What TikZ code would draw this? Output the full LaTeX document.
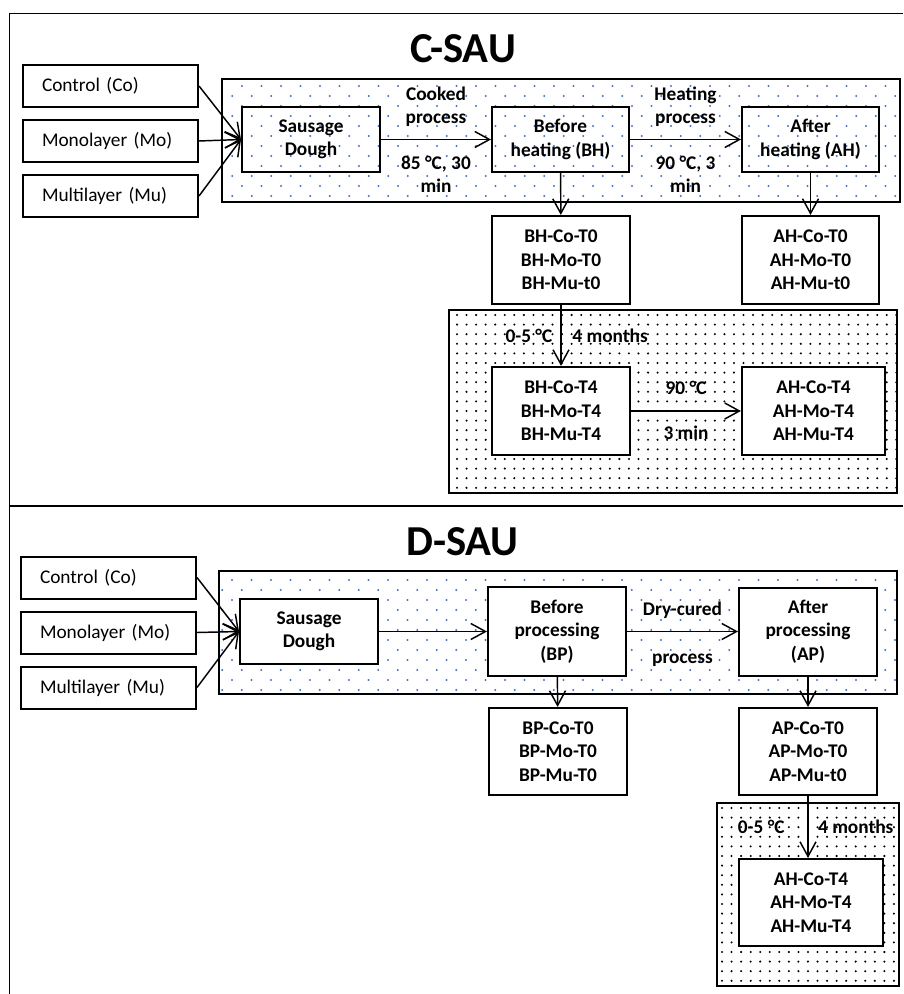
\documentclass[tikz,border=0pt]{standalone}
\usepackage{fontspec}
\setmainfont{Carlito}
\usetikzlibrary{arrows.meta}
\definecolor{dotblue}{HTML}{4472C4}
\tikzset{every picture/.style={line width=0.75pt}}
\tikzset{
  grpbox/.style={draw, line width=1.5pt, fill=white, minimum height=31.5pt,
    text width=102.75pt, inner xsep=14.25pt, align=left,
    font=\fontsize{14.5}{17.5}\selectfont},
  stepbox/.style={draw, line width=1.5pt, minimum width=103.5pt, minimum height=48.75pt,
    align=center, font=\bfseries\fontsize{14.5}{17.5}\selectfont},
  sampbox/.style={draw, line width=1.6pt, fill=white, minimum width=103.5pt, minimum height=66pt,
    align=center, font=\bfseries\fontsize{14.5}{17.5}\selectfont},
  lbl/.style={inner sep=0pt, align=center, font=\bfseries\fontsize{14.5}{17.5}\selectfont},
  ttl/.style={inner sep=0pt, font=\bfseries\fontsize{32}{38}\selectfont},
  arr/.style={line width=1.1pt, -{Straight Barb[length=11pt,width=12pt]}},
  region/.style={draw, line width=1.2pt}
}

\begin{document}
\begin{tikzpicture}[x=0.75pt,y=0.75pt,yscale=-1,xscale=1]
\useasboundingbox (0,0) rectangle (903,994);

%Frame
\draw [line width=1.2pt] (9.5,994) -- (9.5,13.5) -- (903,13.5) ;
\draw [line width=1.2pt] (9.5,506) -- (903,506) ;

%Dotted regions, C-SAU
\begin{scope}
  \clip (222,79) rectangle (900,202);
  \foreach \r in {0,...,12}
    \foreach \c in {0,...,35}
      \fill [dotblue] ({242-9.75*mod(\r,2)+19.5*\c},{86+10*\r}) circle (1.1);
\end{scope}
\draw [region] (222,79) rectangle (900,202) ;
\begin{scope}
  \clip (449,310) rectangle (897,493);
  \foreach \r in {0,...,19}
    \foreach \c in {0,...,47}
      \fill ({457+9.55*\c},{315+9.6*\r}) circle (1.15);
\end{scope}
\draw [region] (449,310) rectangle (897,493) ;

%Dotted regions, D-SAU
\begin{scope}
  \clip (219,571) rectangle (897,694);
  \foreach \r in {0,...,12}
    \foreach \c in {0,...,35}
      \fill [dotblue] ({232-9.75*mod(\r,2)+19.5*\c},{580+10*\r}) circle (1.1);
\end{scope}
\draw [region] (219,571) rectangle (897,694) ;
\begin{scope}
  \clip (717,803) rectangle (899,986);
  \foreach \r in {0,...,19}
    \foreach \c in {0,...,19}
      \fill ({722+9.55*\c},{808+9.6*\r}) circle (1.15);
\end{scope}
\draw [region] (717,803) rectangle (899,986) ;

% Titles
\node [ttl] (ttlc) at (463,49) {C-SAU};
\node [ttl] (ttld) at (462.5,542) {D-SAU};

% C-SAU nodes
\node [grpbox] (co1) at (110.5,86) {Control (Co)};
\node [grpbox] (mo1) at (110.5,141) {Monolayer (Mo)};
\node [grpbox] (mu1) at (110.5,196) {Multilayer (Mu)};
\node [stepbox] (sd1) at (311,139.5) {Sausage\\Dough};
\node [stepbox, minimum width=102.75pt] (bh1) at (560.5,139.5) {Before\\heating (BH)};
\node [stepbox, minimum width=102.75pt] (ah1) at (810.5,139.5) {After\\heating (AH)};
\node [sampbox] (bht0) at (561,260) {BH-Co-T0\\BH-Mo-T0\\BH-Mu-t0};
\node [sampbox, minimum width=102.75pt] (aht0) at (810.5,260) {AH-Co-T0\\AH-Mo-T0\\AH-Mu-t0};
\node [sampbox] (bht4) at (561,411) {BH-Co-T4\\BH-Mo-T4\\BH-Mu-T4};
\node [sampbox, minimum width=107.25pt] (aht4) at (813.5,411) {AH-Co-T4\\AH-Mo-T4\\AH-Mu-T4};

% C-SAU arrows
\draw [arr] (co1.east) -- (sd1.west) ;
\draw [arr] (mo1.east) -- (sd1.west) ;
\draw [arr] (mu1.east) -- (sd1.west) ;
\draw [arr] (sd1) -- node [lbl, above=9pt] {Cooked\\process} node [lbl, below=12pt] {85 °C, 30\\min} (bh1) ;
\draw [arr] (bh1) -- node [lbl, above=9pt] {Heating\\process} node [lbl, below=12pt] {90 °C, 3\\min} (ah1) ;
\draw [arr] (bh1) -- (bht0) ;
\draw [arr] (ah1) -- (aht0) ;
\draw [arr] (bht0) -- node [lbl, left=6pt] {0-5 °C} node [lbl, right=8pt] {4 months} (bht4) ;
\draw [arr] (bht4) -- node [lbl, above=12pt] {90 °C} node [lbl, below=11pt] {3 min} (aht4) ;

% D-SAU nodes
\node [grpbox] (co2) at (108.5,577.5) {Control (Co)};
\node [grpbox] (mo2) at (108.5,632.5) {Monolayer (Mo)};
\node [grpbox] (mu2) at (108.5,687.5) {Multilayer (Mu)};
\node [stepbox, fill=white] (sd2) at (309,631.5) {Sausage\\Dough};
\node [stepbox, fill=white, minimum height=66.75pt] (bp2) at (557,631.5) {Before\\processing\\(BP)};
\node [stepbox, fill=white, minimum height=66pt] (ap2) at (808,631.5) {After\\processing\\(AP)};
\node [sampbox, minimum height=65.25pt] (bpt0) at (558,751.5) {BP-Co-T0\\BP-Mo-T0\\BP-Mu-T0};
\node [sampbox, minimum height=65.25pt] (apt0) at (808,751.5) {AP-Co-T0\\AP-Mo-T0\\AP-Mu-t0};
\node [sampbox, minimum width=108pt, minimum height=65.25pt] (aht4b) at (811,902.5) {AH-Co-T4\\AH-Mo-T4\\AH-Mu-T4};

% D-SAU arrows
\draw [arr] (co2.east) -- (sd2.west) ;
\draw [arr] (mo2.east) -- (sd2.west) ;
\draw [arr] (mu2.east) -- (sd2.west) ;
\draw [arr] (sd2) -- (bp2) ;
\draw [arr] (bp2) -- node [lbl, above=9pt] {Dry-cured} node [lbl, below=16pt] {process} (ap2) ;
\draw [arr] (bp2) -- (bpt0) ;
\draw [arr] (ap2) -- (apt0) ;
\draw [arr] (apt0) -- node [lbl, left=17pt] {0-5 °C} node [lbl, right=7pt] {4 months} (apt0 |- aht4b.north) ;
\end{tikzpicture}
\end{document}
